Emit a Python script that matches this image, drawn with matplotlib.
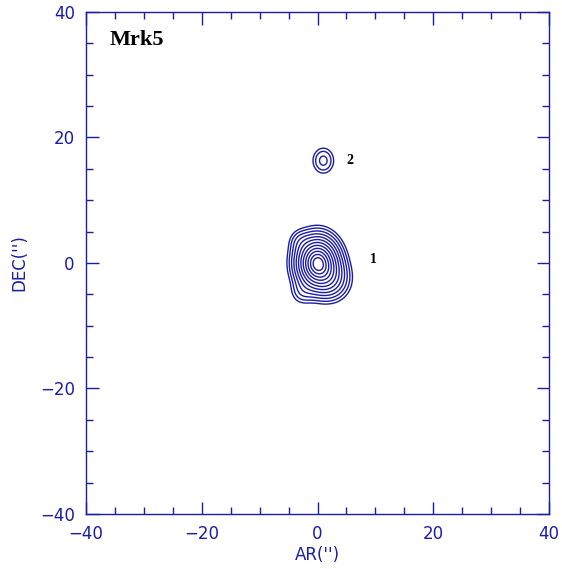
import numpy as np
import matplotlib
matplotlib.use('Agg')
import matplotlib.pyplot as plt

## componentes gaussianas (x, y, amplitude, sigma_x, sigma_y) em arcsec
comp_x = [0.0, 2.5, -3.2, -2.8, 1.0]
comp_y = [0.0, -2.8, 3.6, -4.8, 16.3]
comp_amp = [1.0, 0.2, 0.06, 0.07, 0.143]
comp_sx = [2.2, 2.0, 1.2, 1.3, 1.3]
comp_sy = [2.5, 2.0, 1.2, 1.3, 1.45]

niveis = [0.056, 0.085, 0.126, 0.180, 0.248, 0.331, 0.429, 0.537, 0.653, 0.766, 0.874, 0.964]

rotulos = ['Mrk5', '1', '2']
rot_x = [-36.0, 9.0, 5.0]
rot_y = [35.5, 0.5, 16.4]
rot_tam = [16, 10, 10]

azul = '#1c1ca6'

x = np.linspace(-40, 40, 801)
y = np.linspace(-40, 40, 801)
X, Y = np.meshgrid(x, y)
Z = np.zeros_like(X)
for i in range(len(comp_x)):
    Z += comp_amp[i]*np.exp(-((X-comp_x[i])**2/(2*comp_sx[i]**2) + (Y-comp_y[i])**2/(2*comp_sy[i]**2)))

fig = plt.figure(figsize=(5.62, 5.69), dpi=100)
ax = fig.add_axes([0.153, 0.0967, 0.824, 0.8823])
ax.contour(X, Y, Z, levels=niveis, colors=azul, linewidths=1.0)

for i in range(len(rotulos)):
    ax.text(rot_x[i], rot_y[i], rotulos[i], fontsize=rot_tam[i], fontweight='bold',
            family='Liberation Serif', color='black', va='center', ha='left')

ax.set_xlim(-40, 40)
ax.set_ylim(-40, 40)
ax.set_xticks([-40, -20, 0, 20, 40])
ax.set_yticks([-40, -20, 0, 20, 40])
ax.set_xticks(np.arange(-40, 41, 5), minor=True)
ax.set_yticks(np.arange(-40, 41, 5), minor=True)
ax.tick_params(which='both', direction='in', top=True, right=True, colors=azul, labelsize=12, width=1)
ax.tick_params(which='major', length=9, pad=8)
ax.tick_params(which='minor', length=5)
for s in ax.spines.values():
    s.set_color(azul)
    s.set_linewidth(1)
ax.set_xlabel("AR('')", color=azul, fontsize=12, labelpad=2)
ax.set_ylabel("DEC('')", color=azul, fontsize=12, labelpad=8)

plt.savefig('out.png', dpi=100)
